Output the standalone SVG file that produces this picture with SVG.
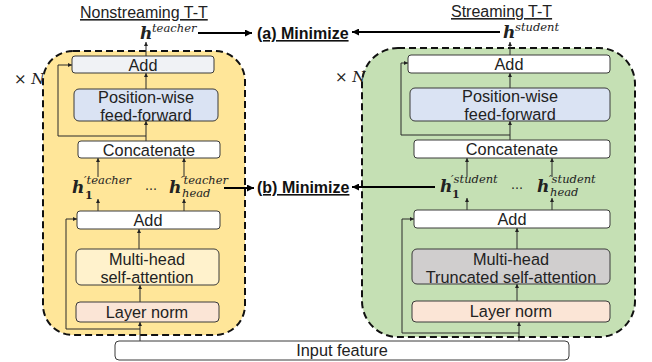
<svg xmlns="http://www.w3.org/2000/svg" width="652" height="362" viewBox="0 0 652 362">
<defs>
<marker id="ah" viewBox="0 0 6 6" refX="6" refY="3" markerWidth="4" markerHeight="4" orient="auto" markerUnits="userSpaceOnUse"><path d="M0,0 L6,3 L0,6 z" fill="#222"/></marker>
<marker id="ahb" viewBox="0 0 6 6" refX="6" refY="3" markerWidth="7" markerHeight="7" orient="auto" markerUnits="userSpaceOnUse"><path d="M0,0 L6,3 L0,6 z" fill="#000"/></marker>
<style>
.box{stroke:#3a3a3a;stroke-width:1;}
.lbl{font-family:"Liberation Sans",Arial,sans-serif;font-size:16.3px;fill:#222;text-anchor:middle;}
.hd{font-family:"Liberation Sans",Arial,sans-serif;font-size:16px;fill:#222;text-decoration:underline;}
.min{font-family:"Liberation Sans",Arial,sans-serif;font-size:16px;font-weight:bold;fill:#111;text-decoration:underline;}
.mh{font-family:"DejaVu Serif",serif;font-size:17px;font-weight:bold;font-style:italic;fill:#222;}
.ms{font-size:11.5px;font-weight:normal;}
.msb{font-size:11px;font-weight:bold;font-style:normal;}
.dots{font-family:"DejaVu Serif",serif;font-size:12px;fill:#222;}
.xn{font-family:"DejaVu Serif",serif;font-size:15px;fill:#222;}
.ln{fill:none;stroke:#2a2a2a;stroke-width:1;}
.big{fill:none;stroke:#000;stroke-width:2;}
.cont{stroke:#111;stroke-width:2;stroke-dasharray:7 4;}
</style>
</defs>

<g id="left-container"><rect class="cont" x="43" y="51" width="202" height="284" rx="30" fill="#ffe699"/></g>
<g id="right-container"><rect class="cont" x="362" y="48" width="273" height="289" rx="36" fill="#c5e0b4"/></g>

<g id="connectors">
<line class="ln" x1="146" y1="56" x2="146" y2="42" marker-end="url(#ah)"/>
<line class="ln" x1="146" y1="89" x2="146" y2="73" marker-end="url(#ah)"/>
<line class="ln" x1="146" y1="141" x2="146" y2="121" marker-end="url(#ah)"/>
<polyline class="ln" points="146,136 58,136 58,65 72,65" marker-end="url(#ah)"/>
<line class="ln" x1="98" y1="177" x2="98" y2="158" marker-end="url(#ah)"/>
<line class="ln" x1="184" y1="177" x2="184" y2="158" marker-end="url(#ah)"/>
<line class="ln" x1="98" y1="211" x2="98" y2="199" marker-end="url(#ah)"/>
<line class="ln" x1="184" y1="211" x2="184" y2="199" marker-end="url(#ah)"/>
<line class="ln" x1="139" y1="249" x2="139" y2="229" marker-end="url(#ah)"/>
<line class="ln" x1="140" y1="302" x2="140" y2="285" marker-end="url(#ah)"/>
<line class="ln" x1="140" y1="341" x2="140" y2="322" marker-end="url(#ah)"/>
<polyline class="ln" points="140,329 66,329 66,219 77,219" marker-end="url(#ah)"/>
<line class="ln" x1="510" y1="55" x2="510" y2="42" marker-end="url(#ah)"/>
<line class="ln" x1="510" y1="88" x2="510" y2="73" marker-end="url(#ah)"/>
<line class="ln" x1="510" y1="140" x2="510" y2="121" marker-end="url(#ah)"/>
<polyline class="ln" points="510,135 401,135 401,63 408,63" marker-end="url(#ah)"/>
<line class="ln" x1="467" y1="177" x2="467" y2="158" marker-end="url(#ah)"/>
<line class="ln" x1="552" y1="177" x2="552" y2="158" marker-end="url(#ah)"/>
<line class="ln" x1="467" y1="210" x2="467" y2="198" marker-end="url(#ah)"/>
<line class="ln" x1="552" y1="210" x2="552" y2="198" marker-end="url(#ah)"/>
<line class="ln" x1="517" y1="249" x2="517" y2="228" marker-end="url(#ah)"/>
<line class="ln" x1="517" y1="301" x2="517" y2="284" marker-end="url(#ah)"/>
<line class="ln" x1="519" y1="341" x2="519" y2="322" marker-end="url(#ah)"/>
<polyline class="ln" points="519,333 402,333 402,219 414,219" marker-end="url(#ah)"/>
<line class="big" x1="198" y1="33" x2="252" y2="33" marker-end="url(#ahb)"/>
<line class="big" x1="500" y1="32" x2="352" y2="32" marker-end="url(#ahb)"/>
<line class="big" x1="224" y1="188" x2="254" y2="188" marker-end="url(#ahb)"/>
<line class="big" x1="435" y1="187" x2="352" y2="187" marker-end="url(#ahb)"/>
</g>

<g id="titles">
<text class="hd" x="80" y="18">Nonstreaming T-T</text>
<text class="hd" x="451" y="17">Streaming T-T</text>
<text class="min" x="257" y="39">(a) Minimize</text>
<text class="min" x="257" y="193">(b) Minimize</text>
<text class="xn" x="14" y="84">× <tspan font-style="italic">N</tspan></text>
<text class="xn" x="335" y="82">× <tspan font-style="italic">N</tspan></text>
</g>

<g id="h-teacher"><text class="mh" x="140" y="39">h<tspan class="ms" x="152" y="32">teacher</tspan></text></g>
<g id="h-student"><text class="mh" x="503" y="38">h<tspan class="ms" x="515" y="31">student</tspan></text></g>

<g id="h1-teacher"><text class="mh" x="72" y="193">h<tspan class="ms" x="84" y="184">′teacher</tspan><tspan class="msb" x="85" y="199">1</tspan></text></g>
<g id="dots-left"><text class="dots" x="145" y="190">…</text></g>
<g id="hhead-teacher"><text class="mh" x="169" y="193">h<tspan class="ms" x="181" y="184">′teacher</tspan><tspan class="ms" x="182" y="197">head</tspan></text></g>

<g id="h1-student"><text class="mh" x="440" y="192">h<tspan class="ms" x="451" y="183">′student</tspan><tspan class="msb" x="452" y="198">1</tspan></text></g>
<g id="dots-right"><text class="dots" x="511" y="189">…</text></g>
<g id="hhead-student"><text class="mh" x="537" y="192">h<tspan class="ms" x="549" y="183">′student</tspan><tspan class="ms" x="550" y="196">head</tspan></text></g>

<g id="l-add-top"><rect class="box" x="72" y="56" width="142" height="17" rx="3" fill="#f0f2f5"/><text class="lbl" x="143" y="70.5">Add</text></g>
<g id="l-ffn"><rect class="box" x="74" y="89" width="144" height="32" rx="5" fill="#dae3f3"/><text class="lbl" x="146" y="103">Position-wise</text><text class="lbl" x="146" y="121">feed-forward</text></g>
<g id="l-concat"><rect class="box" x="78" y="141" width="142" height="17" rx="3" fill="#ffffff"/><text class="lbl" x="149" y="155.5">Concatenate</text></g>
<g id="l-add"><rect class="box" x="77" y="211" width="143" height="18" rx="3" fill="#ffffff"/><text class="lbl" x="148" y="225.5">Add</text></g>
<g id="l-mhsa"><rect class="box" x="76" y="249" width="143" height="36" rx="5" fill="#fff2cc"/><text class="lbl" x="147" y="265">Multi-head</text><text class="lbl" x="147" y="283">self-attention</text></g>
<g id="l-ln"><rect class="box" x="76" y="302" width="143" height="20" rx="4" fill="#fbe5d6"/><text class="lbl" x="147" y="317.5">Layer norm</text></g>

<g id="r-add-top"><rect class="box" x="408" y="55" width="202" height="18" rx="3" fill="#ffffff"/><text class="lbl" x="509" y="69.5">Add</text></g>
<g id="r-ffn"><rect class="box" x="410" y="88" width="200" height="33" rx="5" fill="#dae3f3"/><text class="lbl" x="510" y="102">Position-wise</text><text class="lbl" x="510" y="120">feed-forward</text></g>
<g id="r-concat"><rect class="box" x="414" y="140" width="196" height="18" rx="3" fill="#ffffff"/><text class="lbl" x="512" y="154.5">Concatenate</text></g>
<g id="r-add"><rect class="box" x="414" y="210" width="196" height="18" rx="3" fill="#ffffff"/><text class="lbl" x="512" y="224.5">Add</text></g>
<g id="r-mhtsa"><rect class="box" x="412" y="249" width="198" height="35" rx="5" fill="#d0cece"/><text class="lbl" x="511" y="265">Multi-head</text><text class="lbl" x="511" y="283">Truncated self-attention</text></g>
<g id="r-ln"><rect class="box" x="412" y="301" width="198" height="21" rx="4" fill="#fbe5d6"/><text class="lbl" x="511" y="317">Layer norm</text></g>

<g id="input"><rect class="box" x="115" y="341" width="454" height="19" rx="4" fill="#ffffff"/><text class="lbl" x="342" y="356">Input feature</text></g>
</svg>
